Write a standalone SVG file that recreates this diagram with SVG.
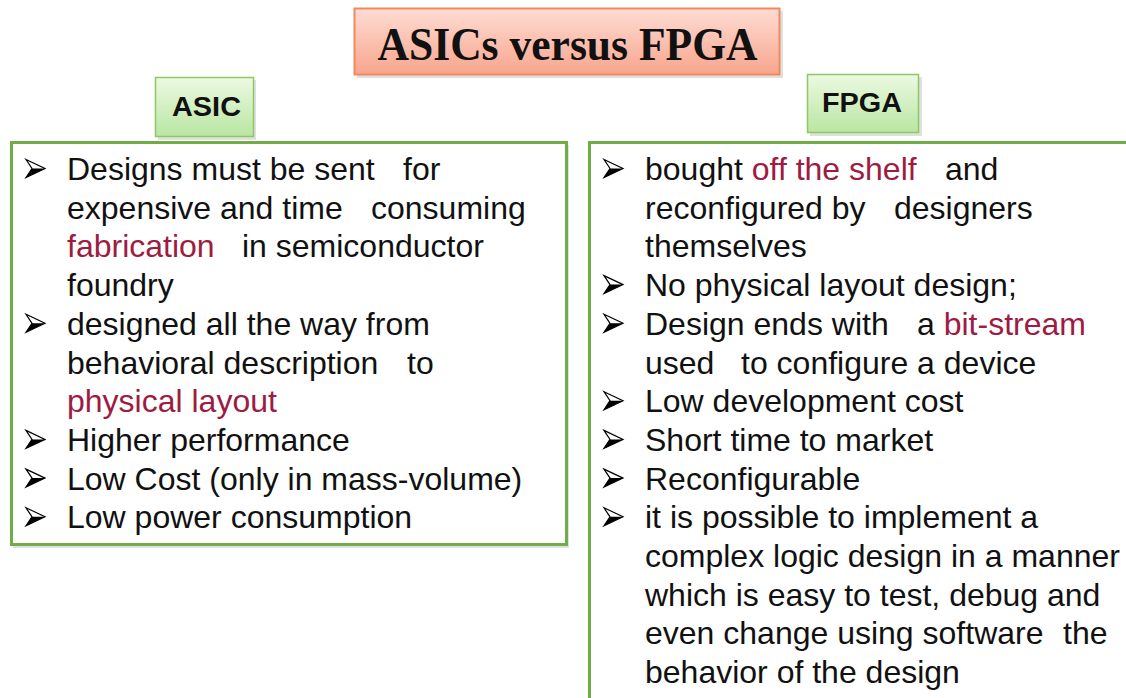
<svg xmlns="http://www.w3.org/2000/svg" width="1126" height="698" viewBox="0 0 1126 698">
<defs>
<linearGradient id="gTitle" x1="0" y1="0" x2="0" y2="1">
<stop offset="0" stop-color="#ffdcd4"/>
<stop offset="1" stop-color="#f7a58c"/>
</linearGradient>
<linearGradient id="gGreen" x1="0" y1="0" x2="0" y2="1">
<stop offset="0" stop-color="#ecf9e2"/>
<stop offset="1" stop-color="#b9e6a2"/>
</linearGradient>
<g id="bullet">
<polygon points="0,-9 19,0 0,9 6,0" fill="#fff" stroke="#000" stroke-width="1.2" stroke-linejoin="miter"/>
<polygon points="0,9 19,0 6,0" fill="#000"/>
</g>
</defs>
<style>
.body{font-family:"Liberation Sans",Arial,sans-serif;font-size:32px;fill:#111}
.red{fill:#9e1b42}
.panel{fill:#fff;stroke:#70ad47;stroke-width:3}
.lbl{fill:url(#gGreen);stroke:#8cc864;stroke-width:1.5}
.lbltxt{font-family:"Liberation Sans",Arial,sans-serif;font-weight:bold;font-size:27px;fill:#111;text-anchor:middle}
.shadow{fill:#000;opacity:0.12}
</style>
<rect width="1126" height="698" fill="#fff"/>

<g id="title">
<rect class="shadow" x="357" y="11" width="426" height="67"/>
<rect x="354.5" y="8.5" width="425" height="66" fill="url(#gTitle)" stroke="#f08a5d" stroke-width="2"/>
<text x="567.5" y="60" text-anchor="middle" font-family="'Liberation Serif','Times New Roman',serif" font-weight="bold" font-size="46" fill="#111" textLength="380" lengthAdjust="spacingAndGlyphs">ASICs versus FPGA</text>
</g>

<g id="asic-panel">
<rect class="shadow" x="13" y="145" width="556" height="403"/>
<rect class="panel" x="11.5" y="142.5" width="555" height="402"/>
<use href="#bullet" x="26" y="168.5"/>
<use href="#bullet" x="26" y="323.3"/>
<use href="#bullet" x="26" y="439.4"/>
<use href="#bullet" x="26" y="478.1"/>
<use href="#bullet" x="26" y="516.8"/>
<text class="body" x="67" y="180">Designs must be sent</text>
<text class="body" x="403" y="180">for</text>
<text class="body" x="67" y="218.7">expensive and time</text>
<text class="body" x="371" y="218.7">consuming</text>
<text class="body red" x="67" y="257.4">fabrication</text>
<text class="body" x="242" y="257.4">in semiconductor</text>
<text class="body" x="67" y="296.1">foundry</text>
<text class="body" x="67" y="334.8">designed all the way from</text>
<text class="body" x="67" y="373.5">behavioral description</text>
<text class="body" x="407" y="373.5">to</text>
<text class="body red" x="67" y="412.2">physical layout</text>
<text class="body" x="67" y="450.9">Higher performance</text>
<text class="body" x="67" y="489.6">Low Cost (only in mass-volume)</text>
<text class="body" x="67" y="528.3">Low power consumption</text>
</g>

<g id="fpga-panel">
<rect class="panel" x="589.5" y="142.5" width="560" height="600"/>
<use href="#bullet" x="604" y="168.5"/>
<use href="#bullet" x="604" y="284.6"/>
<use href="#bullet" x="604" y="323.3"/>
<use href="#bullet" x="604" y="400.7"/>
<use href="#bullet" x="604" y="439.4"/>
<use href="#bullet" x="604" y="478.1"/>
<use href="#bullet" x="604" y="516.8"/>
<text class="body" x="645" y="180">bought <tspan class="red">off the shelf</tspan></text>
<text class="body" x="945" y="180">and</text>
<text class="body" x="645" y="218.7">reconfigured by</text>
<text class="body" x="894" y="218.7">designers</text>
<text class="body" x="645" y="257.4">themselves</text>
<text class="body" x="645" y="296.1">No physical layout design;</text>
<text class="body" x="645" y="334.8">Design ends with</text>
<text class="body" x="917" y="334.8">a <tspan class="red">bit-stream</tspan></text>
<text class="body" x="645" y="373.5">used</text>
<text class="body" x="741" y="373.5">to configure a device</text>
<text class="body" x="645" y="412.2">Low development cost</text>
<text class="body" x="645" y="450.9">Short time to market</text>
<text class="body" x="645" y="489.6">Reconfigurable</text>
<text class="body" x="645" y="528.3">it is possible to implement a</text>
<text class="body" x="645" y="567">complex logic design in a manner</text>
<text class="body" x="645" y="605.7">which is easy to test, debug and</text>
<text class="body" x="645" y="644.4">even change using software</text>
<text class="body" x="1063" y="644.4">the</text>
<text class="body" x="645" y="683.1">behavior of the design</text>
</g>

<g id="asic-label">
<rect class="shadow" x="158" y="80" width="98" height="60"/>
<rect class="lbl" x="155.5" y="77.5" width="98" height="59"/>
<text class="lbltxt" x="206.5" y="116" textLength="69" lengthAdjust="spacingAndGlyphs">ASIC</text>
</g>

<g id="fpga-label">
<rect class="shadow" x="810" y="77" width="112" height="59"/>
<rect class="lbl" x="807.5" y="74.5" width="111" height="58"/>
<text class="lbltxt" x="862" y="112" textLength="80" lengthAdjust="spacingAndGlyphs">FPGA</text>
</g>

<g id="connectors"/>
</svg>
